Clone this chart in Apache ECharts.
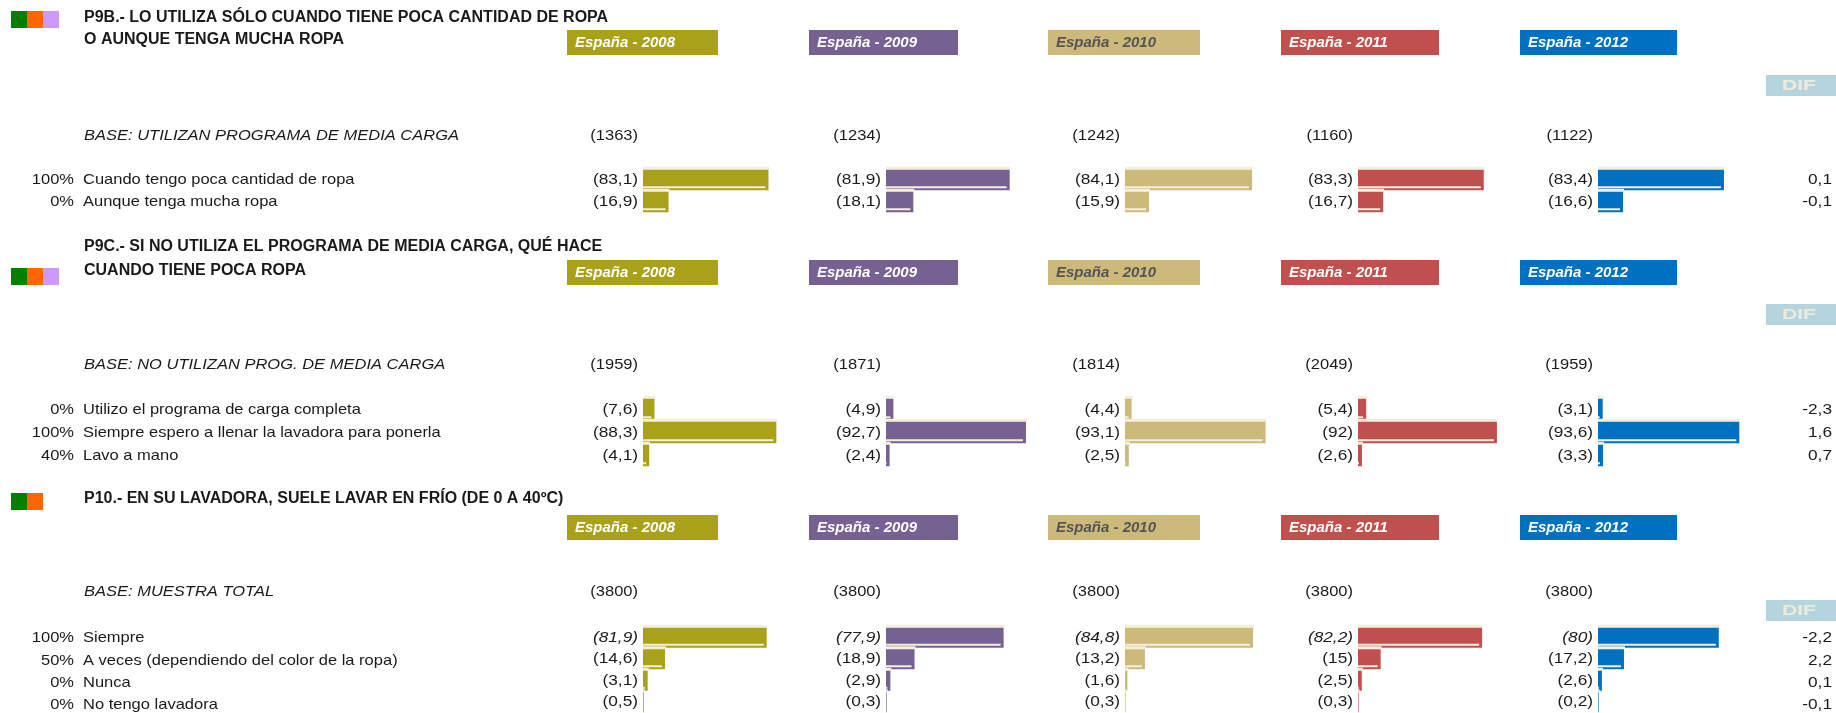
<!DOCTYPE html>
<html>
<head>
<meta charset="utf-8">
<script src="https://cdn.jsdelivr.net/npm/echarts@6/dist/echarts.min.js"></script>
<style>
html, body { margin: 0; padding: 0; background: #ffffff; }
#chart { width: 1836px; height: 713px; }
</style>
</head>
<body>
<div id="chart"></div>
<script>
// ---- Data ----
const yearLabels = ['España - 2008', 'España - 2009', 'España - 2010', 'España - 2011', 'España - 2012'];

// P9B
const p9bTitle = ['P9B.- LO UTILIZA SÓLO CUANDO TIENE POCA CANTIDAD DE ROPA', 'O AUNQUE TENGA MUCHA ROPA'];
const p9bBaseLabel = 'BASE: UTILIZAN PROGRAMA DE MEDIA CARGA';
const p9bBase = [1363, 1234, 1242, 1160, 1122];
const p9bCategories = ['Cuando tengo poca cantidad de ropa', 'Aunque tenga mucha ropa'];
const p9bPercent = ['100%', '0%'];
const p9b2008 = [83.1, 16.9];
const p9b2009 = [81.9, 18.1];
const p9b2010 = [84.1, 15.9];
const p9b2011 = [83.3, 16.7];
const p9b2012 = [83.4, 16.6];
const p9bDif = ['0,1', '-0,1'];

// P9C
const p9cTitle = ['P9C.- SI NO UTILIZA EL PROGRAMA DE MEDIA CARGA, QUÉ HACE', 'CUANDO TIENE POCA ROPA'];
const p9cBaseLabel = 'BASE: NO UTILIZAN PROG. DE MEDIA CARGA';
const p9cBase = [1959, 1871, 1814, 2049, 1959];
const p9cCategories = ['Utilizo el programa de carga completa', 'Siempre espero a llenar la lavadora para ponerla', 'Lavo a mano'];
const p9cPercent = ['0%', '100%', '40%'];
const p9c2008 = [7.6, 88.3, 4.1];
const p9c2009 = [4.9, 92.7, 2.4];
const p9c2010 = [4.4, 93.1, 2.5];
const p9c2011 = [5.4, 92, 2.6];
const p9c2012 = [3.1, 93.6, 3.3];
const p9cDif = ['-2,3', '1,6', '0,7'];

// P10
const p10Title = ['P10.- EN SU LAVADORA, SUELE LAVAR EN FRÍO (DE 0 A 40ºC)'];
const p10BaseLabel = 'BASE: MUESTRA TOTAL';
const p10Base = [3800, 3800, 3800, 3800, 3800];
const p10Categories = ['Siempre', 'A veces (dependiendo del color de la ropa)', 'Nunca', 'No tengo lavadora'];
const p10Percent = ['100%', '50%', '0%', '0%'];
const p102008 = [81.9, 14.6, 3.1, 0.5];
const p102009 = [77.9, 18.9, 2.9, 0.3];
const p102010 = [84.8, 13.2, 1.6, 0.3];
const p102011 = [82.2, 15, 2.5, 0.3];
const p102012 = [80, 17.2, 2.6, 0.2];
const p10Dif = ['-2,2', '2,2', '0,1', '-0,1'];
const p10ItalicRow = 0;

// ---- Styling / layout ----
const yearColors = ['#A9A11A', '#766193', '#CDB97A', '#C0504D', '#0070C0'];
const tagTextColors = ['#ffffff', '#ffffff', '#555555', '#ffffff', '#ffffff'];
const squareColors = ['#008000', '#FF6600', '#CC99FF'];
const cream = '#F4EFDC';
const ink = '#1a1a1a';
const FONT = '"Liberation Sans", Arial, sans-serif';
const WIDE = 1.1;   // the report's body type is set slightly loose

const colLeft = [643, 886, 1125, 1358, 1598];
const colWidth = 151;
const tagLeft = [567, 809, 1048, 1281, 1520];
const tagWidth = [151, 149, 152, 158, 157];

const sections = [
  { title: p9bTitle, baseLabel: p9bBaseLabel, base: p9bBase, cats: p9bCategories, pct: p9bPercent,
    values: [p9b2008, p9b2009, p9b2010, p9b2011, p9b2012], dif: p9bDif, italicRow: -1,
    squares: 3, sqTop: 11, titleY: [18, 40], tagTop: 30, difTop: 75, baseY: 136, gridTop: 169, band: 22 },
  { title: p9cTitle, baseLabel: p9cBaseLabel, base: p9cBase, cats: p9cCategories, pct: p9cPercent,
    values: [p9c2008, p9c2009, p9c2010, p9c2011, p9c2012], dif: p9cDif, italicRow: -1,
    squares: 3, sqTop: 268, titleY: [247, 271], tagTop: 260, difTop: 304, baseY: 365, gridTop: 398, band: 23 },
  { title: p10Title, baseLabel: p10BaseLabel, base: p10Base, cats: p10Categories, pct: p10Percent,
    values: [p102008, p102009, p102010, p102011, p102012], dif: p10Dif, italicRow: p10ItalicRow,
    squares: 2, sqTop: 493, titleY: [499], tagTop: 515, difTop: 600, baseY: 592, gridTop: 627, band: 22.3 }
];

function fmt(v) { return String(v).replace('.', ','); }

function label(x, y, text, font, align, scaleX) {
  return { type: 'text', x: x, y: y, scaleX: scaleX || 1,
    style: { text: text, font: font, fill: ink, align: align, verticalAlign: 'middle' } };
}

const grids = [], xAxes = [], yAxes = [], series = [], graphics = [];

sections.forEach((sec, si) => {
  // colour squares
  for (let k = 0; k < sec.squares; k++) {
    graphics.push({ type: 'rect', shape: { x: 11 + k * 16, y: sec.sqTop, width: 16, height: 17 }, style: { fill: squareColors[k] } });
  }
  // question title
  sec.title.forEach((line, li) => {
    graphics.push(label(84, sec.titleY[li], line, 'bold 16px ' + FONT, 'left', 1));
  });
  // year tags
  yearLabels.forEach((lab, yi) => {
    graphics.push({ type: 'rect', shape: { x: tagLeft[yi], y: sec.tagTop, width: tagWidth[yi], height: 25 }, style: { fill: yearColors[yi] } });
    graphics.push({ type: 'text', x: tagLeft[yi] + 8, y: sec.tagTop + 12.5,
      style: { text: lab, font: 'italic bold 15px ' + FONT, fill: tagTextColors[yi], align: 'left', verticalAlign: 'middle' } });
  });
  // DIF box
  graphics.push({ type: 'rect', shape: { x: 1766, y: sec.difTop, width: 70, height: 21 }, style: { fill: '#B4D5DD' } });
  graphics.push({ type: 'text', x: 1799, y: sec.difTop + 10.5, scaleX: 1.4,
    style: { text: 'DIF', font: 'bold 15px ' + FONT, fill: '#EFEBDB', align: 'center', verticalAlign: 'middle' } });
  // base line
  graphics.push(label(84, sec.baseY, sec.baseLabel, 'italic 15px ' + FONT, 'left', WIDE));
  sec.base.forEach((b, yi) => {
    graphics.push(label(colLeft[yi] - 5, sec.baseY, '(' + b + ')', '15px ' + FONT, 'right', WIDE));
  });
  // row labels and differences
  sec.cats.forEach((c, ri) => {
    const cy = sec.gridTop + (ri + 0.5) * sec.band;
    graphics.push(label(74, cy, sec.pct[ri], '15px ' + FONT, 'right', WIDE));
    graphics.push(label(83, cy, c, '15px ' + FONT, 'left', WIDE));
    graphics.push(label(1832, cy, sec.dif[ri], '15px ' + FONT, 'right', 1.15));
  });

  // one small grid per year
  sec.values.forEach((vals, yi) => {
    const gi = grids.length;
    grids.push({ left: colLeft[yi], top: sec.gridTop, width: colWidth, height: sec.band * sec.cats.length, containLabel: false });
    xAxes.push({ type: 'value', gridIndex: gi, min: 0, max: 100, show: false });
    yAxes.push({ type: 'category', gridIndex: gi, data: sec.cats, inverse: true, show: false });
    const color = yearColors[yi];
    const italicRow = sec.italicRow;
    series.push({
      type: 'custom',
      xAxisIndex: gi,
      yAxisIndex: gi,
      data: vals.map((v, i) => [v, i]),
      encode: { x: 0, y: 1 },
      silent: true,
      renderItem: function (params, api) {
        const v = api.value(0);
        const ci = api.value(1);
        const p0 = api.coord([0, ci]);
        const p1 = api.coord([v, ci]);
        const band = api.size([0, 1])[1];
        const h = band - 1.5;
        const x0 = p0[0];
        const w = Math.max(p1[0] - p0[0], 0.6);
        const y0 = p0[1] - h / 2;
        return {
          type: 'group',
          children: [
            { type: 'rect', shape: { x: x0, y: y0 - 3, width: w + 1, height: 3 }, style: { fill: cream } },
            { type: 'rect', shape: { x: x0, y: y0, width: w, height: h }, style: { fill: color } },
            { type: 'rect', shape: { x: x0, y: y0 + h - 4, width: Math.max(w - 3, 0), height: 2 }, style: { fill: cream } },
            { type: 'text', x: x0 - 5, y: p0[1], scaleX: 1.15,
              style: { text: '(' + fmt(v) + ')', font: (ci === italicRow ? 'italic ' : '') + '15px ' + FONT,
                       fill: ink, align: 'right', verticalAlign: 'middle' } }
          ]
        };
      }
    });
  });
});

const chart = echarts.init(document.getElementById('chart'), null, { renderer: 'canvas' });
chart.setOption({
  animation: false,
  backgroundColor: '#ffffff',
  grid: grids,
  xAxis: xAxes,
  yAxis: yAxes,
  series: series,
  graphic: { elements: graphics }
});
</script>
</body>
</html>
